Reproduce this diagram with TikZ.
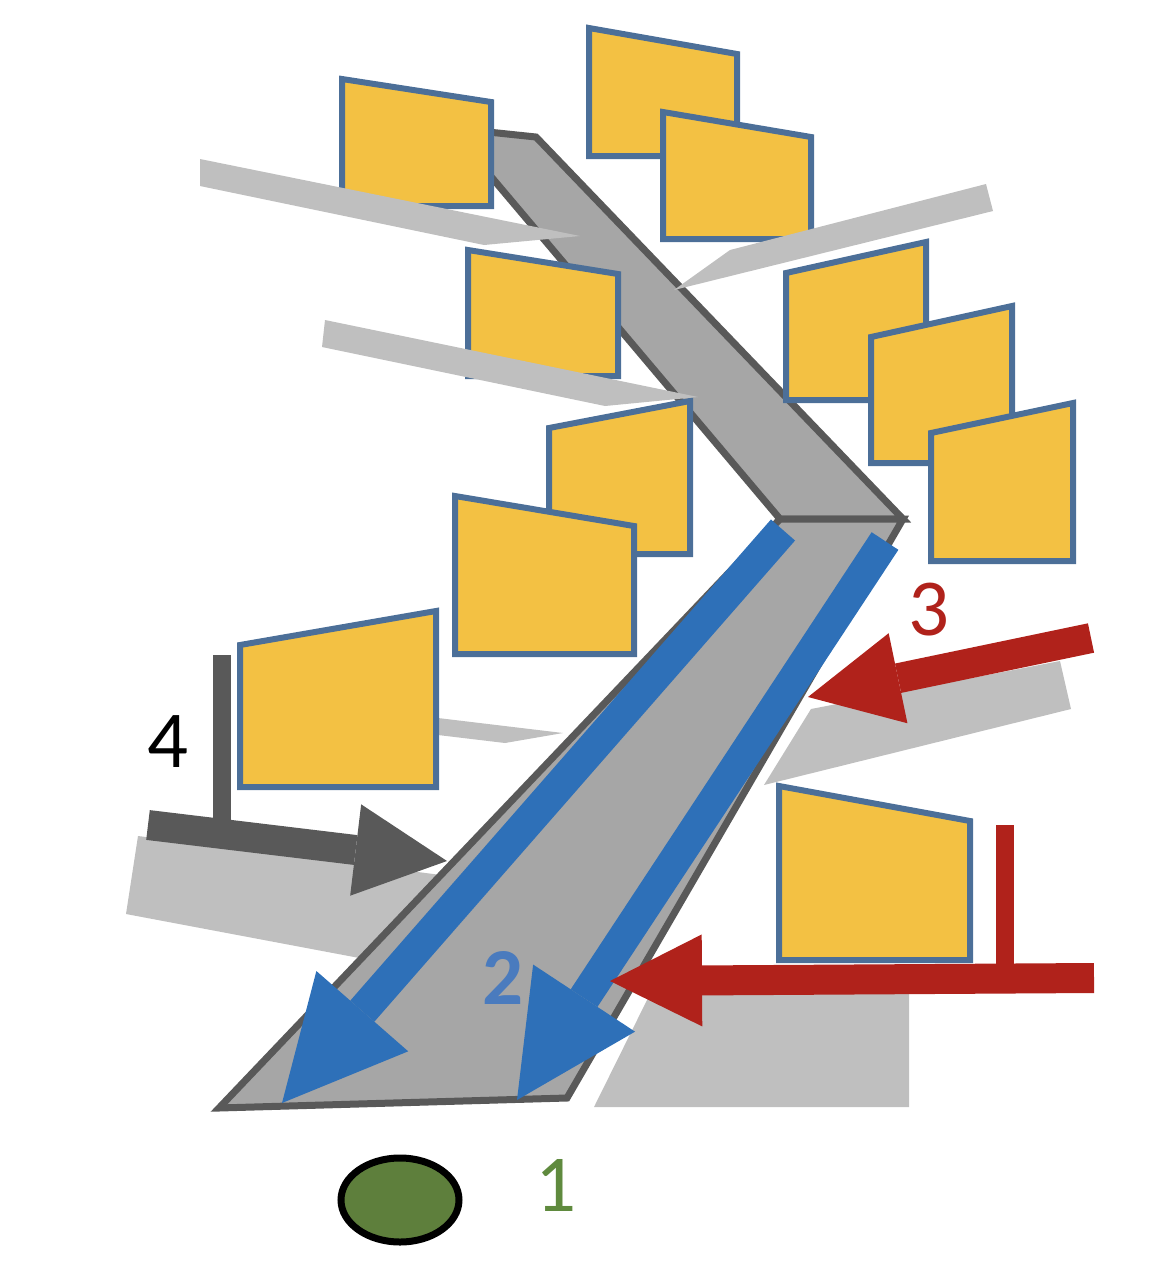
\documentclass[tikz,border=0pt]{standalone}
\usepackage{fontspec}
\setmainfont{Carlito}
\usetikzlibrary{arrows.meta}
\definecolor{leafyellow}{HTML}{F3C143}
\definecolor{leafborder}{HTML}{4C6F98}
\definecolor{twiggrey}{HTML}{BFBFBF}
\definecolor{trunkgrey}{HTML}{A6A6A6}
\definecolor{trunkborder}{HTML}{595959}
\definecolor{flowblue}{HTML}{2E70B8}
\definecolor{labelblue}{HTML}{4A7BBE}
\definecolor{pushred}{HTML}{B0221B}
\definecolor{seedgreen}{HTML}{5E7F3C}
\definecolor{labelgreen}{HTML}{5F8A3E}
\tikzset{
  leaf/.style={fill=leafyellow, draw=leafborder, line width=0.6mm},
  twig/.style={fill=twiggrey},
  trunk/.style={fill=trunkgrey, draw=trunkborder, line width=0.7mm},
  flowarrow/.style={line width=3.2mm,
    -{Triangle[width=12.2mm, length=12.2mm, line width=0pt]}},
  pusharrow/.style={line width=3mm,
    -{Triangle[width=9.2mm, length=9.2mm, line width=0pt]}},
  stopbar/.style={line width=1.8mm},
  numlabel/.style={font=\fontsize{23}{27}\selectfont, inner sep=0pt},
}

\begin{document}
\begin{tikzpicture}[x=0.1mm, y=-0.1mm]
  \useasboundingbox (0,0) rectangle (1176,1274);

  % twigs behind everything
  \fill[twiggrey] (438,718) -- (563,733) -- (505,743) -- (438,735) -- cycle;
  \fill[twiggrey] (138,836) -- (480,880) -- (370,960) -- (126,914) -- cycle;
  \fill[twiggrey] (1060,661) -- (1071,709) -- (764,785) -- (811,709) -- cycle;
  \fill[twiggrey] (594,1107) -- (909,1107) -- (909,994) -- (650,994) -- cycle;

  % upper trunk
  \draw[trunk] (450,128) -- (536,137) -- (903,519) -- (780,519) -- cycle;

  % leaves
  \draw[leaf] (589,28) -- (737,54) -- (737,156) -- (589,156) -- cycle;
  \draw[leaf] (663,112) -- (811,137) -- (811,239) -- (663,239) -- cycle;
  \draw[leaf] (342,79) -- (491,102) -- (491,206) -- (342,206) -- cycle;
  \draw[leaf] (468,250) -- (618,274) -- (618,376) -- (468,376) -- cycle;
  \draw[leaf] (786,273) -- (926,242) -- (926,400) -- (786,400) -- cycle;
  \draw[leaf] (871,337) -- (1012,306) -- (1012,463) -- (871,463) -- cycle;
  \draw[leaf] (931,433) -- (1073,403) -- (1073,561) -- (931,561) -- cycle;
  \draw[leaf] (549,428) -- (690,401) -- (690,554) -- (549,554) -- cycle;
  \draw[leaf] (455,496) -- (634,526) -- (634,654) -- (455,654) -- cycle;
  \draw[leaf] (240,645) -- (436,611) -- (436,787) -- (240,787) -- cycle;
  \draw[leaf] (779,786) -- (970,821) -- (970,960) -- (779,960) -- cycle;

  % twigs over the leaves
  \fill[twiggrey] (200,159) -- (580,236) -- (484,245) -- (200,186) -- cycle;
  \fill[twiggrey] (986,184) -- (993,211) -- (674,290) -- (730,250) -- cycle;
  \fill[twiggrey] (325,320) -- (698,397) -- (605,406) -- (322,347) -- cycle;

  % lower trunk
  \draw[trunk] (780,519) -- (903,519) -- (567,1098) -- (219,1108) -- cycle;

  % flows
  \coordinate (b1s) at (783,530);
  \coordinate (b1e) at (282,1103);
  \coordinate (b2s) at (885,541);
  \coordinate (b2e) at (517,1100);
  \draw[flowarrow, flowblue] (b1s) -- (b1e);
  \draw[flowarrow, flowblue] (b2s) -- (b2e);

  \coordinate (r1s) at (1091,638);
  \coordinate (r1e) at (808,697);
  \coordinate (r2s) at (1094,978);
  \coordinate (r2e) at (610,981);
  \draw[pusharrow, pushred] (r1s) -- (r1e);
  \draw[pusharrow, pushred] (r2s) -- (r2e);
  \draw[stopbar, pushred] (1005,825) -- (1005,966);

  \coordinate (g1s) at (148,825);
  \coordinate (g1e) at (447,861);
  \draw[pusharrow, trunkborder] (g1s) -- (g1e);
  \draw[stopbar, trunkborder] (222,655) -- (222,822);

  % labels
  \node[numlabel, text=labelgreen] (lbl1) at (556,1185) {1};
  \node[numlabel, text=labelblue, font=\fontsize{23}{27}\selectfont\bfseries] (lbl2) at (503,978) {2};
  \node[numlabel, text=pushred] (lbl3) at (929,610) {3};
  \node[numlabel, text=black] (lbl4) at (168,742) {4};

  % seed
  \draw[fill=seedgreen, line width=0.7mm] (400,1200) ellipse [x radius=59, y radius=42];
\end{tikzpicture}
\end{document}
